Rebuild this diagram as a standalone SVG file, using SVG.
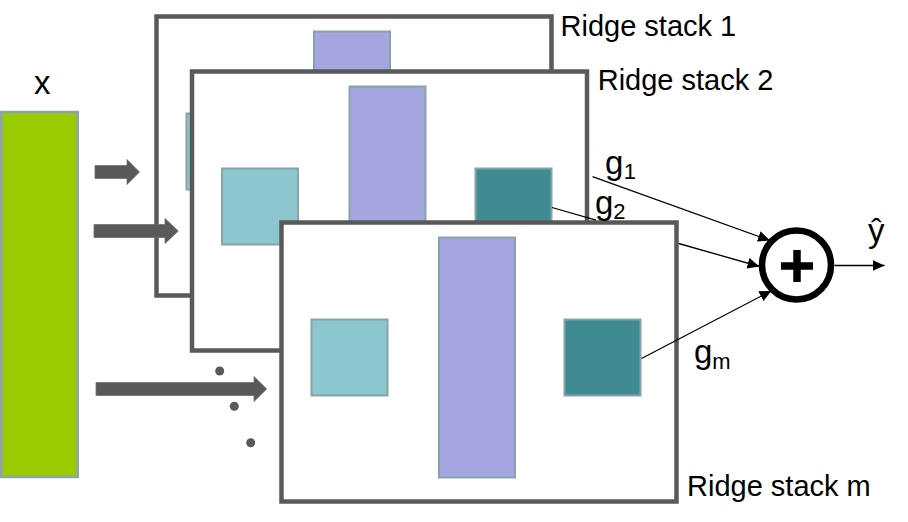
<svg xmlns="http://www.w3.org/2000/svg" width="908" height="522" viewBox="0 0 908 522">
<style>
  .frame { fill: #ffffff; stroke: #595959; stroke-width: 4.5; }
  .lt { fill: #8cc7ce; stroke: #85a3a8; stroke-width: 2; }
  .pu { fill: #a5a5df; stroke: #85a3a8; stroke-width: 2; }
  .dt { fill: #3e8c91; stroke: #85a3a8; stroke-width: 2; }
  .lbl { font-family: "Liberation Sans", Arial, sans-serif; font-size: 29px; fill: #000000; }
  .big { font-size: 33px; }
  .sub { font-size: 22px; }
  .conn { stroke: #000000; stroke-width: 1.3; fill: none; }
  .blk { fill: #595959; stroke: #6e6e6e; stroke-width: 0.8; }
  .dot { fill: #595959; }
</style>
<defs>
  <marker id="ah" markerUnits="userSpaceOnUse" markerWidth="14" markerHeight="12" refX="12" refY="5.5" orient="auto">
    <path d="M0,0 L12,5.5 L0,11 Z" fill="#000000"/>
  </marker>
</defs>

<g id="input-x">
  <rect x="1.25" y="112" width="76.5" height="365" fill="#99cc00" stroke="#8ea3b0" stroke-width="2.5"/>
  <text class="lbl big" x="34" y="94">x</text>
</g>

<g id="ridge-stack-1" transform="translate(156.5,16.5)">
  <rect class="frame" x="0" y="0" width="395" height="279"/>
  <rect class="lt" x="30" y="97" width="76" height="76"/>
  <rect class="pu" x="157.5" y="15" width="76" height="240"/>
  <rect class="dt" x="283.5" y="97" width="76" height="76"/>
  <text class="lbl" x="404" y="19.5">Ridge stack 1</text>
</g>

<g id="ridge-stack-2" transform="translate(192,71.5)">
  <rect class="frame" x="0" y="0" width="395" height="279"/>
  <rect class="lt" x="30" y="97" width="76" height="76"/>
  <rect class="pu" x="157.5" y="15" width="76" height="240"/>
  <rect class="dt" x="283.5" y="97" width="76" height="76"/>
  <text class="lbl" x="405.7" y="18.5">Ridge stack 2</text>
</g>

<g id="ridge-stack-m" transform="translate(281.5,222.5)">
  <rect class="frame" x="0" y="0" width="395" height="279"/>
  <rect class="lt" x="30" y="97" width="76" height="76"/>
  <rect class="pu" x="157.5" y="15" width="76" height="240"/>
  <rect class="dt" x="283" y="97" width="76" height="76"/>
  <text class="lbl" x="405.5" y="273.5">Ridge stack m</text>
</g>

<g id="ellipsis-dots">
  <circle class="dot" cx="219.7" cy="371" r="4.5"/>
  <circle class="dot" cx="234.3" cy="406.3" r="4.5"/>
  <circle class="dot" cx="250.7" cy="442.7" r="4.5"/>
</g>

<g id="sum-node">
  <circle cx="796.5" cy="265" r="34.5" fill="#ffffff" stroke="#000000" stroke-width="6.5"/>
  <line x1="781" y1="266" x2="813" y2="266" stroke="#000000" stroke-width="7.5"/>
  <line x1="797" y1="250" x2="797" y2="282" stroke="#000000" stroke-width="7.5"/>
</g>

<g id="connectors">
  <polygon class="blk" points="95,165.5 127,165.5 127,159.5 139.5,172 127,184.5 127,178.5 95,178.5"/>
  <polygon class="blk" points="94,224.5 165,224.5 165,218.5 178.3,231 165,243.5 165,237.5 94,237.5"/>
  <polygon class="blk" points="96,382.5 254,382.5 254,376.5 266.7,389 254,401.5 254,395.5 96,395.5"/>

  <line class="conn" x1="592.5" y1="176.7" x2="770" y2="240.5" marker-end="url(#ah)"/>
  <path class="conn" d="M552,207.5 L596,220.2 M678.7,243.5 L759.5,266.5" marker-end="url(#ah)"/>
  <line class="conn" x1="641.5" y1="358.5" x2="771.5" y2="290.7" marker-end="url(#ah)"/>
  <line class="conn" x1="834.5" y1="265.5" x2="884.5" y2="265.5" marker-end="url(#ah)"/>
</g>

<g id="labels">
  <text class="lbl big" x="605" y="173.5">g<tspan class="sub" dx="0.5" dy="5">1</tspan></text>
  <text class="lbl big" x="595" y="214">g<tspan class="sub" dx="0" dy="5">2</tspan></text>
  <text class="lbl big" x="694" y="362.5">g<tspan class="sub" dx="0" dy="6">m</tspan></text>
  <text class="lbl big" x="868" y="242">ŷ</text>
</g>
</svg>
